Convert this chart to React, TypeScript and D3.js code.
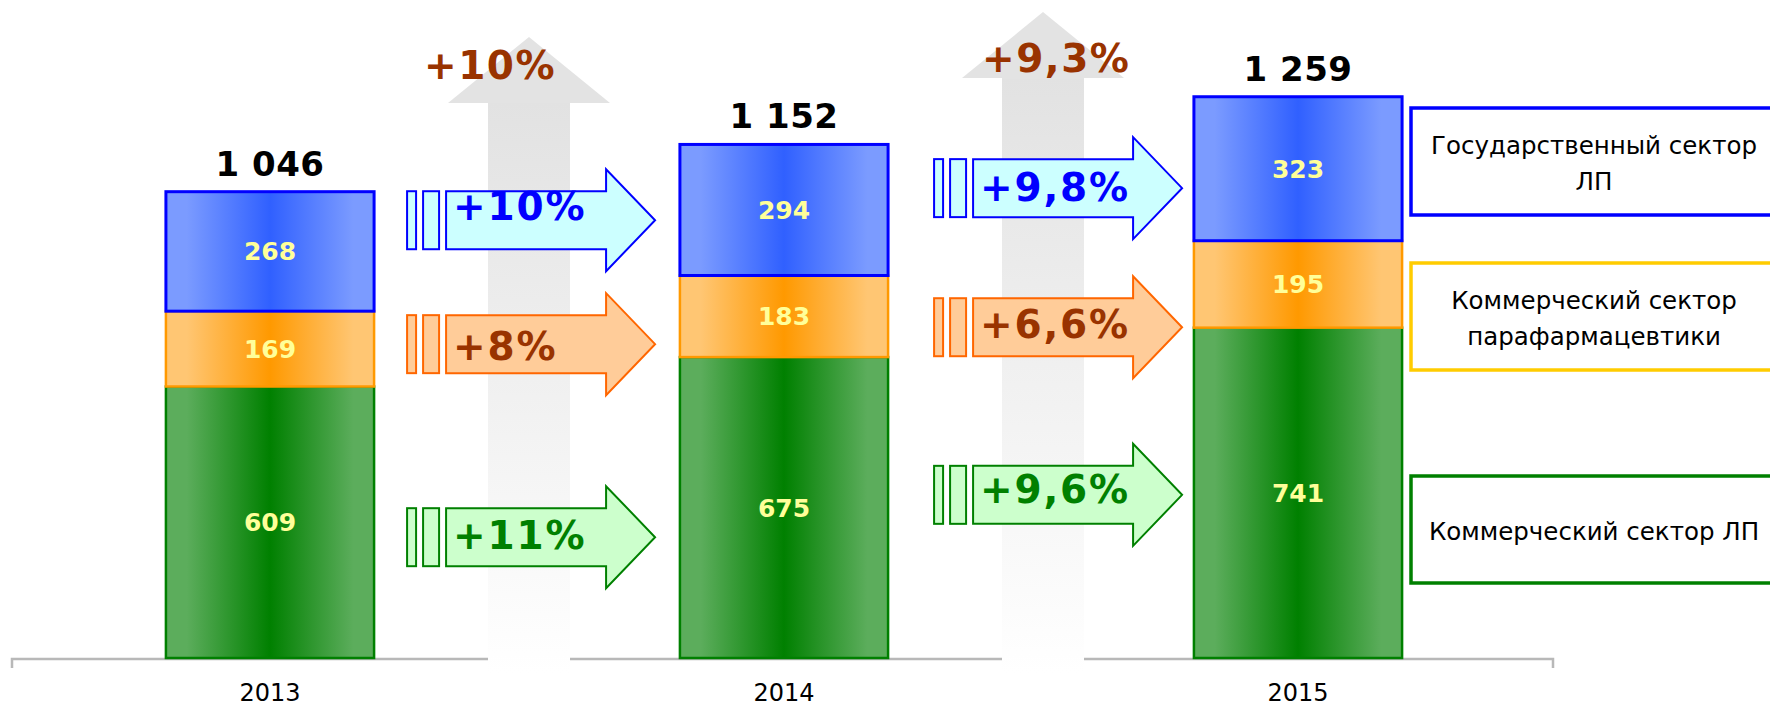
import * as d3 from 'd3';

const years = ['2013', '2014', '2015'];
const keys = ['komm', 'para', 'gos'];
const kommValues = [609, 675, 741];
const paraValues = [169, 183, 195];
const gosValues = [268, 294, 323];

// growth between neighbouring years
const totalGrowth = ['+10%', '+9,3%'];
const gosGrowth = ['+10%', '+9,8%'];
const paraGrowth = ['+8%', '+6,6%'];
const kommGrowth = ['+11%', '+9,6%'];

// levels (in chart units) where the annotation arrows sit
const gosArrowLevel = [982, 1054];
const paraArrowLevel = [704, 742];
const kommArrowLevel = [271, 366];
const bigArrowTip = [1393, 1449];

const legendLabels = [
  ['Государственный сектор', 'ЛП'],
  ['Коммерческий сектор', 'парафармацевтики'],
  ['Коммерческий сектор ЛП'],
];

const W = 1770;
const H = 706;
const FONT = '"DejaVu Sans", Verdana, sans-serif';

const segStyle: Record<string, { edge: string; mid: string; stroke: string; sw: number }> = {
  gos: { edge: '#7b9bff', mid: '#3060ff', stroke: '#0000ff', sw: 3 },
  para: { edge: '#ffc673', mid: '#ff9900', stroke: '#ff9900', sw: 2.5 },
  komm: { edge: '#5cad5c', mid: '#008000', stroke: '#008000', sw: 2.5 },
};

const arrowStyle = {
  gos: { fill: '#ccffff', stroke: '#0000ff', text: '#0000ff' },
  para: { fill: '#ffcc99', stroke: '#ff6600', text: '#993300' },
  komm: { fill: '#ccffcc', stroke: '#008000', text: '#008000' },
};

const legendColors = ['#0000ff', '#ffcc00', '#008000'];

const fmt = d3.formatLocale({ thousands: ' ', grouping: [3], decimal: ',', currency: ['', ''] }).format(',d');

function GrowthArrow({ x0, cy, label, kind, textDy = 12 }) {
  const s = arrowStyle[kind];
  const body = `M${x0 + 39},${cy - 29}H${x0 + 199}V${cy - 51}L${x0 + 248},${cy}L${x0 + 199},${cy + 51}V${cy + 29}H${x0 + 39}Z`;
  return (
    <g>
      <rect x={x0} y={cy - 29} width={9} height={58} fill={s.fill} stroke={s.stroke} strokeWidth={2} />
      <rect x={x0 + 16} y={cy - 29} width={16} height={58} fill={s.fill} stroke={s.stroke} strokeWidth={2} />
      <path d={body} fill={s.fill} stroke={s.stroke} strokeWidth={2} />
      <text x={x0 + 46} y={cy + textDy} fill={s.text} fontSize={39} fontWeight="bold" letterSpacing={1.8}
        fontFamily={FONT}>{label}</text>
    </g>
  );
}

export default function App() {
  const x = d3.scaleBand().domain(years).range([13, 1555]).padding(0);
  const y = d3.scaleLinear().domain([0, 1476]).range([658, 0]);
  const bw = x.step() * 0.405;

  const rows = years.map((yr, i) => ({ year: yr, komm: kommValues[i], para: paraValues[i], gos: gosValues[i] }));
  const stacked = d3.stack().keys(keys)(rows as any);
  const totals = rows.map(r => r.komm + r.para + r.gos);

  const cx = (yr: string) => (x(yr) as number) + x.step() / 2;

  // annotation layout per gap between bars
  const arrowShift = [33, 46];
  const bigLabelDx = [-105, -61];
  const bigLabelBase = [79, 72];

  return (
    <svg width={W} height={H} style={{ position: 'absolute', left: 0, top: 0, background: '#fff' }}
      fontFamily={FONT}>
      <defs>
        {keys.map(k => (
          <linearGradient key={k} id={`g-${k}`} x1="0" x2="1" y1="0" y2="0">
            <stop offset="0%" stopColor={segStyle[k].edge} />
            <stop offset="10%" stopColor={segStyle[k].edge} />
            <stop offset="50%" stopColor={segStyle[k].mid} />
            <stop offset="90%" stopColor={segStyle[k].edge} />
            <stop offset="100%" stopColor={segStyle[k].edge} />
          </linearGradient>
        ))}
        <linearGradient id="g-shaft" x1="0" x2="0" y1="0" y2="1">
          <stop offset="0%" stopColor="#e2e2e2" />
          <stop offset="100%" stopColor="#ffffff" />
        </linearGradient>
      </defs>

      {/* axis */}
      <path d={`M12,668V${y(0) + 1}H1553V668`} fill="none" stroke="#b8b8b8" strokeWidth={2.5} />
      {years.map(yr => (
        <text key={yr} x={cx(yr)} y={701} textAnchor="middle" fontSize={24} fill="#000">{yr}</text>
      ))}

      {/* big grey growth arrows */}
      {totalGrowth.map((g, i) => {
        const gx = (cx(years[i]) + cx(years[i + 1])) / 2 + 2;
        const tip = y(bigArrowTip[i]);
        const base = tip + 66;
        return (
          <g key={g}>
            <rect x={gx - 41} y={base} width={82} height={673 - base} fill="url(#g-shaft)" />
            <path d={`M${gx},${tip}L${gx + 81},${base}H${gx - 81}Z`} fill="#e3e3e3" />
            <text x={gx + bigLabelDx[i]} y={bigLabelBase[i]} fill="#993300" fontSize={39} fontWeight="bold"
              letterSpacing={1.5}>{g}</text>
          </g>
        );
      })}

      {/* stacked bars */}
      {stacked.map(layer => (
        <g key={layer.key}>
          {layer.map((d, i) => {
            const yr = years[i];
            const st = segStyle[layer.key];
            const top = y(d[1]);
            const bot = y(d[0]);
            const v = d[1] - d[0];
            return (
              <g key={yr}>
                <rect x={cx(yr) - bw / 2} y={top} width={bw} height={bot - top} fill={`url(#g-${layer.key})`}
                  stroke={st.stroke} strokeWidth={st.sw} />
                <text x={cx(yr)} y={(top + bot) / 2 + 9} textAnchor="middle" fontSize={25} fontWeight="bold"
                  fill="#ffff99">{v}</text>
              </g>
            );
          })}
        </g>
      ))}
      {totals.map((t, i) => (
        <text key={years[i]} x={cx(years[i])} y={y(t) - 16} textAnchor="middle" fontSize={34} fontWeight="bold"
          letterSpacing={0.5} fill="#000">{fmt(t)}</text>
      ))}

      {/* segment growth arrows */}
      {[0, 1].map(i => {
        const x0 = cx(years[i]) + bw / 2 + arrowShift[i];
        return (
          <g key={i}>
            <GrowthArrow x0={x0} cy={y(gosArrowLevel[i])} label={gosGrowth[i]} kind="gos" textDy={i === 0 ? 0 : 13} />
            <GrowthArrow x0={x0} cy={y(paraArrowLevel[i])} label={paraGrowth[i]} kind="para" textDy={i === 0 ? 16 : 11} />
            <GrowthArrow x0={x0} cy={y(kommArrowLevel[i])} label={kommGrowth[i]} kind="komm" textDy={i === 0 ? 12 : 8} />
          </g>
        );
      })}

      {/* legend */}
      {legendLabels.map((lines, i) => {
        const top = [108, 263, 476][i];
        const mid = top + 53;
        return (
          <g key={i}>
            <rect x={1411} y={top} width={366} height={107} fill="#fff" stroke={legendColors[i]} strokeWidth={3.5} />
            {lines.map((ln, j) => (
              <text key={j} x={1594} y={mid + 11 + (j - (lines.length - 1) / 2) * 36} textAnchor="middle"
                fontSize={24.5} fill="#000">{ln}</text>
            ))}
          </g>
        );
      })}
    </svg>
  );
}
